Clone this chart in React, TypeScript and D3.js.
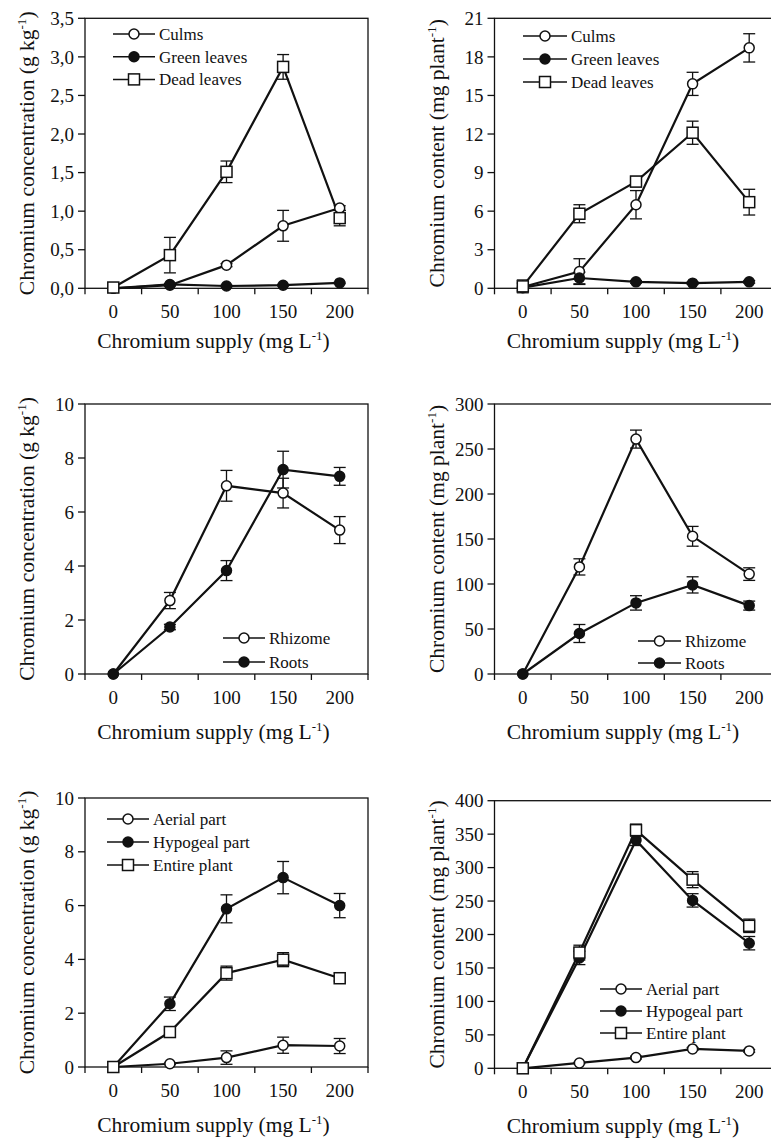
import { useEffect, useRef } from 'react'
import * as d3 from 'd3'

// Chromium supply levels (mg L-1) shared by all six panels
const doses = [0, 50, 100, 150, 200]
const xTicks = [-25, 25, 75, 125, 175, 225]

// Panel A - concentration in aerial organs (g kg-1)
const culmsConc = [0, 0.04, 0.30, 0.81, 1.04]
const culmsConcErr = [0, 0.01, 0.02, 0.20, 0.03]
const greenConc = [0, 0.05, 0.03, 0.04, 0.07]
const greenConcErr = [0, 0.01, 0.01, 0.01, 0.01]
const deadConc = [0.01, 0.43, 1.51, 2.87, 0.91]
const deadConcErr = [0, 0.23, 0.14, 0.16, 0.10]
const ticksA = [0, 0.5, 1, 1.5, 2, 2.5, 3, 3.5]

// Panel B - content in aerial organs (mg plant-1)
const culmsCont = [0.1, 1.3, 6.5, 15.9, 18.7]
const culmsContErr = [0.3, 1.0, 1.1, 0.9, 1.1]
const greenCont = [0.05, 0.8, 0.5, 0.4, 0.5]
const greenContErr = [0.05, 0.45, 0.1, 0.1, 0.1]
const deadCont = [0.15, 5.8, 8.3, 12.1, 6.7]
const deadContErr = [0.5, 0.7, 0.4, 0.9, 1.0]
const ticksB = [0, 3, 6, 9, 12, 15, 18, 21]

// Panel C - concentration in underground organs (g kg-1)
const rhizomeConc = [0, 2.72, 6.97, 6.70, 5.33]
const rhizomeConcErr = [0, 0.3, 0.57, 0.55, 0.5]
const rootsConc = [0, 1.74, 3.83, 7.57, 7.32]
const rootsConcErr = [0, 0.1, 0.37, 0.68, 0.33]
const ticksC = [0, 2, 4, 6, 8, 10]

// Panel D - content in underground organs (mg plant-1)
const rhizomeCont = [0, 119, 261, 153, 111]
const rhizomeContErr = [0, 9, 10, 11, 7]
const rootsCont = [0, 45, 79, 99, 76]
const rootsContErr = [0, 10, 8, 9, 5]
const ticksD = [0, 50, 100, 150, 200, 250, 300]

// Panel E - concentration by plant part (g kg-1)
const aerialConc = [0, 0.12, 0.35, 0.81, 0.78]
const aerialConcErr = [0, 0.03, 0.25, 0.3, 0.28]
const hypoConc = [0, 2.35, 5.88, 7.04, 6.0]
const hypoConcErr = [0, 0.25, 0.52, 0.6, 0.45]
const entireConc = [0, 1.3, 3.49, 3.99, 3.3]
const entireConcErr = [0, 0.08, 0.26, 0.26, 0.1]
const ticksE = [0, 2, 4, 6, 8, 10]

// Panel F - content by plant part (mg plant-1)
const aerialCont = [0, 8, 16, 29, 26]
const aerialContErr = [0, 1, 2, 2, 2]
const hypoCont = [0, 165, 341, 251, 187]
const hypoContErr = [0, 10, 8, 10, 10]
const entireCont = [0, 173, 356, 282, 213]
const entireContErr = [0, 11, 9, 12, 10]
const ticksF = [0, 50, 100, 150, 200, 250, 300, 350, 400]

const FONT = '"Liberation Serif", "Times New Roman", serif'
const INK = '#111'
const FRAME_W = 283

const panels = [
  {
    left: 85, top: 18.3, bottom: 288.3, max: 3.5, ticks: ticksA, comma: true, conc: true, titleGap: 60,
    legend: { x1: 113, x2: 155, y: 34, step: 22.7 },
    series: [
      { name: 'Culms', mark: 'open', values: culmsConc, err: culmsConcErr },
      { name: 'Green leaves', mark: 'filled', values: greenConc, err: greenConcErr },
      { name: 'Dead leaves', mark: 'square', values: deadConc, err: deadConcErr },
    ],
  },
  {
    left: 494.5, top: 18.3, bottom: 288.3, max: 21, ticks: ticksB, comma: false, conc: false, titleGap: 60,
    legend: { x1: 523, x2: 567, y: 36, step: 23 },
    series: [
      { name: 'Culms', mark: 'open', values: culmsCont, err: culmsContErr },
      { name: 'Green leaves', mark: 'filled', values: greenCont, err: greenContErr },
      { name: 'Dead leaves', mark: 'square', values: deadCont, err: deadContErr },
    ],
  },
  {
    left: 85, top: 404, bottom: 674, max: 10, ticks: ticksC, comma: false, conc: true, titleGap: 65,
    legend: { x1: 223, x2: 265, y: 638, step: 24 },
    series: [
      { name: 'Rhizome', mark: 'open', values: rhizomeConc, err: rhizomeConcErr },
      { name: 'Roots', mark: 'filled', values: rootsConc, err: rootsConcErr },
    ],
  },
  {
    left: 494.5, top: 404, bottom: 674, max: 300, ticks: ticksD, comma: false, conc: false, titleGap: 65,
    legend: { x1: 638, x2: 681, y: 641, step: 22 },
    series: [
      { name: 'Rhizome', mark: 'open', values: rhizomeCont, err: rhizomeContErr },
      { name: 'Roots', mark: 'filled', values: rootsCont, err: rootsContErr },
    ],
  },
  {
    left: 85, top: 798, bottom: 1067, max: 10, ticks: ticksE, comma: false, conc: true, titleGap: 65,
    legend: { x1: 107, x2: 149, y: 819, step: 23 },
    series: [
      { name: 'Aerial part', mark: 'open', values: aerialConc, err: aerialConcErr },
      { name: 'Hypogeal part', mark: 'filled', values: hypoConc, err: hypoConcErr },
      { name: 'Entire plant', mark: 'square', values: entireConc, err: entireConcErr },
    ],
  },
  {
    left: 494.5, top: 800.7, bottom: 1068.3, max: 400, ticks: ticksF, comma: false, conc: false, titleGap: 65,
    legend: { x1: 600, x2: 642, y: 989, step: 22 },
    series: [
      { name: 'Aerial part', mark: 'open', values: aerialCont, err: aerialContErr },
      { name: 'Hypogeal part', mark: 'filled', values: hypoCont, err: hypoContErr },
      { name: 'Entire plant', mark: 'square', values: entireCont, err: entireContErr },
    ],
  },
]

function drawMarker(g: any, mark: string, cx: number, cy: number) {
  if (mark === 'square') {
    g.append('rect')
      .attr('x', cx - 5.5).attr('y', cy - 5.5)
      .attr('width', 11).attr('height', 11)
      .attr('fill', '#fff').attr('stroke', INK).attr('stroke-width', 1.5)
  } else {
    g.append('circle')
      .attr('cx', cx).attr('cy', cy).attr('r', 5)
      .attr('fill', mark === 'filled' ? INK : '#fff')
      .attr('stroke', INK).attr('stroke-width', 1.5)
  }
}

export default function App() {
  const svgRef = useRef<SVGSVGElement>(null)

  useEffect(() => {
    if (!svgRef.current) return
    const svg = d3.select(svgRef.current)
    svg.selectAll('*').remove()

    panels.forEach(p => {
      const x = d3.scaleLinear().domain([-25, 225]).range([p.left, p.left + FRAME_W])
      const y = d3.scaleLinear().domain([0, p.max]).range([p.bottom, p.top])
      const g = svg.append('g')

      // frame
      g.append('rect')
        .attr('x', p.left).attr('y', p.top)
        .attr('width', FRAME_W).attr('height', p.bottom - p.top)
        .attr('fill', 'none').attr('stroke', INK).attr('stroke-width', 1.3)

      // y ticks + labels
      const fmt = (v: number) => p.comma ? d3.format('.1f')(v).replace('.', ',') : String(v)
      p.ticks.forEach(t => {
        g.append('line')
          .attr('x1', p.left - 7).attr('x2', p.left)
          .attr('y1', y(t)).attr('y2', y(t))
          .attr('stroke', INK).attr('stroke-width', 1.3)
        g.append('text')
          .attr('x', p.left - 11).attr('y', y(t)).attr('dy', '0.35em')
          .attr('text-anchor', 'end')
          .attr('font-family', FONT).attr('font-size', 19).attr('fill', INK)
          .text(fmt(t))
      })

      // x ticks (between the labels) + labels
      xTicks.forEach(t => {
        g.append('line')
          .attr('x1', x(t)).attr('x2', x(t))
          .attr('y1', p.bottom).attr('y2', p.bottom + 6)
          .attr('stroke', INK).attr('stroke-width', 1.3)
      })
      doses.forEach(d => {
        g.append('text')
          .attr('x', x(d)).attr('y', p.bottom + 30)
          .attr('text-anchor', 'middle')
          .attr('font-family', FONT).attr('font-size', 19).attr('fill', INK)
          .text(String(d))
      })

      // x title
      const xt = g.append('text')
        .attr('x', x(100) - 13).attr('y', p.bottom + p.titleGap)
        .attr('text-anchor', 'middle')
        .attr('font-family', FONT).attr('font-size', 21.5).attr('fill', INK)
      xt.append('tspan').text('Chromium supply (mg L')
      xt.append('tspan').attr('font-size', 13).attr('dy', -8).text('-1')
      xt.append('tspan').attr('dy', 8).text(')')

      // y title
      const cy = (p.top + p.bottom) / 2
      const bx = p.conc ? 34 : 444
      const yt = g.append('text')
        .attr('transform', `translate(${bx},${cy}) rotate(-90)`)
        .attr('text-anchor', 'middle')
        .attr('font-family', FONT).attr('font-size', 21.5).attr('fill', INK)
      yt.append('tspan').text(p.conc ? 'Chromium concentration (g kg' : 'Chromium content (mg plant')
      yt.append('tspan').attr('font-size', 13).attr('dy', -8).text('-1')
      yt.append('tspan').attr('dy', 8).text(')')

      // series lines
      const line = d3.line<number>().x((_, i) => x(doses[i])).y(v => y(v))
      p.series.forEach(s => {
        g.append('path')
          .attr('d', line(s.values))
          .attr('fill', 'none').attr('stroke', INK).attr('stroke-width', 2.2)
      })

      // error bars
      p.series.forEach(s => {
        s.values.forEach((v, i) => {
          const e = s.err[i]
          if (!e) return
          const cx = x(doses[i])
          const y0 = y(v - e), y1 = y(v + e)
          g.append('line').attr('x1', cx).attr('x2', cx).attr('y1', y0).attr('y2', y1)
            .attr('stroke', INK).attr('stroke-width', 1.3)
          ;[y0, y1].forEach(yy => {
            g.append('line').attr('x1', cx - 6).attr('x2', cx + 6).attr('y1', yy).attr('y2', yy)
              .attr('stroke', INK).attr('stroke-width', 1.3)
          })
        })
      })

      // markers
      p.series.forEach(s => {
        s.values.forEach((v, i) => drawMarker(g, s.mark, x(doses[i]), y(v)))
      })

      // legend
      const L = p.legend
      p.series.forEach((s, i) => {
        const ly = L.y + i * L.step
        g.append('line').attr('x1', L.x1).attr('x2', L.x2).attr('y1', ly).attr('y2', ly)
          .attr('stroke', INK).attr('stroke-width', 1.5)
        drawMarker(g, s.mark, (L.x1 + L.x2) / 2, ly)
        g.append('text')
          .attr('x', L.x2 + 4).attr('y', ly).attr('dy', '0.35em')
          .attr('font-family', FONT).attr('font-size', 17).attr('fill', INK)
          .text(s.name)
      })
    })
  }, [])

  return (
    <svg
      ref={svgRef}
      width={771}
      height={1141}
      style={{ position: 'absolute', left: 0, top: 0, background: '#fff' }}
    />
  )
}
